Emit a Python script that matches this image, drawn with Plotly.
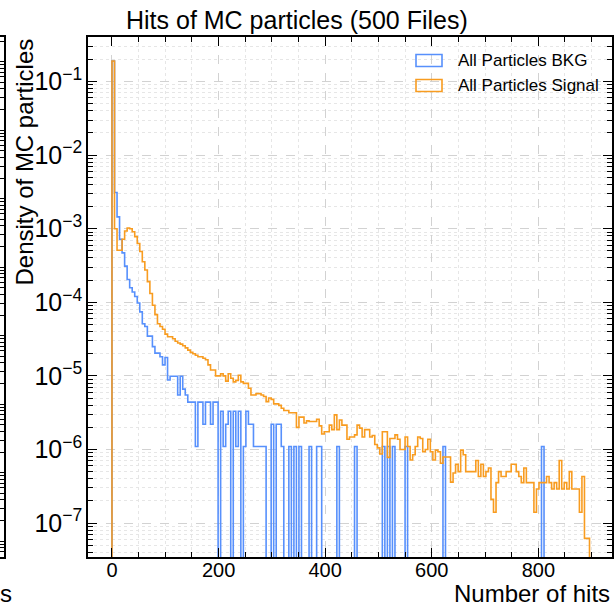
import numpy as np
import plotly.graph_objects as go

# ---------------- data ----------------
hit_min, hit_max, n_bins = 0.0, 896.0, 189

signal_density = [
    0.19, 1.0e-3, 5.1e-4, 5.1e-4, 7.2e-4, 9.3e-4, 1.02e-3, 1.0e-3, 9.1e-4, 7.8e-4,
    6.3e-4, 4.9e-4, 3.55e-4, 2.75e-4, 1.91e-4, 1.32e-4, 9.1e-5, 6.8e-5, 5.1e-5, 4.7e-5,
    4.3e-5, 3.7e-5, 3.4e-5, 3.4e-5, 3.2e-5, 2.95e-5, 2.8e-5, 2.7e-5, 2.57e-5, 2.4e-5,
    2.24e-5, 2.09e-5, 2.0e-5, 1.91e-5, 1.82e-5, 1.82e-5, 1.74e-5, 1.66e-5, 1.41e-5, 1.2e-5,
    1.2e-5, 1.0e-5, 1.0e-5, 1.07e-5, 1.0e-5, 8.5e-6, 1.07e-5, 9.3e-6, 8.3e-6, 8.7e-6,
    1.02e-5, 8.3e-6, 7.9e-6, 7.9e-6, 6.8e-6, 5.5e-6, 5.5e-6, 5.75e-6, 5.75e-6, 5.5e-6,
    5.25e-6, 4.47e-6, 5.0e-6, 4.8e-6, 4.17e-6, 4.17e-6, 3.98e-6, 3.63e-6, 3.39e-6, 3.39e-6,
    3.16e-6, 3.16e-6, 3.16e-6, 2.0e-6, 2.75e-6, 2.75e-6, 2.29e-6, 2.45e-6, 2.4e-6, 2.4e-6,
    2.4e-6, 2.57e-6, 2.09e-6, 1.62e-6, 1.74e-6, 1.74e-6, 2.14e-6, 1.86e-6, 2.95e-6, 1.86e-6,
    2.51e-6, 2.14e-6, 2.14e-6, 1.38e-6, 1.48e-6, 1.48e-6, 1.58e-6, 2.14e-6, 1.95e-6, 1.48e-6,
    1.86e-6, 1.86e-6, 1.48e-6, 1.55e-6, 1.17e-6, 1.05e-6, 8.7e-7, 1.74e-6, 1.74e-6, 7.8e-7,
    1.41e-6, 1.41e-6, 1.58e-6, 1.38e-6, 1.0e-6, 1.0e-6, 1.48e-6, 1.1e-6, 7.2e-7, 8.5e-7,
    1.1e-6, 1.48e-6, 1.41e-6, 9.3e-7, 1.0e-6, 1.38e-6, 9.3e-7, 7.2e-7, 9.8e-7, 9.3e-7,
    6.5e-7, 7.9e-7, 7.9e-7, 7.9e-7, 3.6e-7, 4.8e-7, 6.3e-7, 5.0e-7, 9.8e-7, 8.5e-7,
    5.0e-7, 5.0e-7, 5.0e-7, 5.0e-7, 7.1e-7, 4.3e-7, 6.3e-7, 4.3e-7, 5.0e-7, 5.6e-7,
    2.1e-7, 1.4e-7, 3.55e-7, 5.0e-7, 4.3e-7, 4.3e-7, 5.0e-7, 5.0e-7, 6.3e-7, 6.3e-7,
    5.0e-7, 4.3e-7, 3.55e-7, 5.6e-7, 3.55e-7, 3.55e-7, 3.55e-7, 1.4e-7, 2.9e-7, 3.55e-7,
    3.55e-7, 3.55e-7, 4.3e-7, 3.55e-7, 2.9e-7, 3.55e-7, 2.9e-7, 7.1e-7, 2.9e-7, 3.55e-7,
    2.9e-7, 5.0e-7, 2.9e-7, 2.9e-7, 2.9e-7, 1.4e-7, 4.3e-7, 6.2e-8, 6.2e-8,
]

bkg_density = [
    0.19, 3.1e-3, 1.45e-3, 7.2e-4, 4.7e-4, 3.1e-4, 2.04e-4, 1.58e-4, 1.38e-4, 1.2e-4,
    9.8e-5, 7.4e-5, 5.1e-5, 4.7e-5, 3.47e-5, 3.47e-5, 2.5e-5, 2.04e-5, 2.04e-5, 1.82e-5,
    1.41e-5, 1.78e-5, 8.8e-6, 9.9e-6, 9.9e-6, 9.9e-6, 5.5e-6, 9.9e-6, 6.6e-6, 5.5e-6,
    4.4e-6, 4.4e-6, 4.4e-6, 1.1e-6, 4.4e-6, 4.4e-6, 2.2e-6, 4.4e-6, 4.4e-6, 2.2e-6,
    4.4e-6, 4.4e-6, 0.0, 3.3e-6, 1.1e-6, 2.2e-6, 3.3e-6, 0.0, 3.3e-6, 1.1e-6,
    3.3e-6, 0.0, 1.1e-6, 3.3e-6, 2.2e-6, 2.2e-6, 1.1e-6, 1.1e-6, 1.1e-6, 1.1e-6,
    1.1e-6, 0.0, 0.0, 2.2e-6, 0.0, 2.2e-6, 2.2e-6, 1.1e-6, 0.0, 0.0,
    1.1e-6, 0.0, 1.1e-6, 0.0, 1.1e-6, 0.0, 0.0, 0.0, 1.1e-6, 0.0,
    0.0, 1.1e-6, 1.1e-6, 0.0, 0.0, 0.0, 0.0, 0.0, 0.0, 1.1e-6,
    0.0, 0.0, 0.0, 0.0, 0.0, 0.0, 1.1e-6, 0.0, 0.0, 0.0,
    0.0, 0.0, 0.0, 0.0, 0.0, 0.0, 0.0, 1.1e-6, 0.0, 1.1e-6,
    0.0, 1.1e-6, 0.0, 0.0, 0.0, 0.0, 1.1e-6, 0.0, 0.0, 0.0,
    0.0, 0.0, 0.0, 0.0, 0.0, 0.0, 0.0, 0.0, 0.0, 0.0,
    0.0, 1.1e-6, 0.0, 0.0, 0.0, 0.0, 0.0, 0.0, 0.0, 0.0,
    0.0, 0.0, 0.0, 0.0, 0.0, 0.0, 0.0, 0.0, 0.0, 0.0,
    0.0, 0.0, 0.0, 0.0, 0.0, 0.0, 0.0, 0.0, 0.0, 0.0,
    0.0, 0.0, 0.0, 0.0, 0.0, 0.0, 0.0, 0.0, 0.0, 0.0,
    1.1e-6, 0.0, 0.0, 0.0, 0.0, 0.0, 0.0, 0.0, 0.0, 0.0,
    0.0, 0.0, 0.0, 0.0, 0.0, 0.0, 0.0, 0.0, 0.0,
]

series_labels = ["All Particles BKG", "All Particles Signal"]
series_colors = ["#5790fc", "#f89c20"]
title_text = "Hits of MC particles (500 Files)"
x_title = "Number of hits"
y_title = "Density of MC particles"

# ---------------- figure ----------------
W, H = 614, 607
R, T, B = 2, 37, 50
PW, PH = W - R, H - T - B          # paper area spans x = 0 .. 612 px
MAIN_LEFT = 88                     # main panel starts here
FRAG_RIGHT = 3.5                   # right spine of neighbouring panel
FONT = "Liberation Sans, Arial, Helvetica, sans-serif"


def px(xp):
    return xp / PW


def py(yp):
    return (H - B - yp) / PH


edges = np.linspace(hit_min, hit_max, n_bins + 1)
FLOOR = 1e-12


def step_xy(vals):
    v = [val if val > 0 else FLOOR for val in vals]
    xs = [edges[0]] + list(edges[:-1]) + [edges[-1], edges[-1]]
    ys = [FLOOR] + v + [v[-1], FLOOR]
    return xs, ys


fig = go.Figure()
for vals, name, col in [(bkg_density, series_labels[0], series_colors[0]),
                        (signal_density, series_labels[1], series_colors[1])]:
    xs, ys = step_xy(vals)
    fig.add_trace(go.Scatter(x=xs, y=ys, mode="lines", name=name,
                             line=dict(color=col, width=1.6, shape="hv"),
                             showlegend=False, hoverinfo="skip"))

# invisible placeholder so the neighbouring panel's axes get drawn
fig.add_trace(go.Scatter(x=[0.5], y=[1e-3], xaxis="x2", yaxis="y2", mode="markers",
                         marker=dict(opacity=0), showlegend=False, hoverinfo="skip"))

axis_common = dict(
    showline=True, linecolor="black", linewidth=1.6, mirror="ticks",
    ticks="inside", ticklen=9, tickwidth=1.1, tickcolor="black",
    tickfont=dict(family=FONT, size=20, color="black"),
    showgrid=True, gridcolor="#d2d2d2", griddash="dash", gridwidth=0.8,
    zeroline=False,
)

fig.update_layout(
    xaxis=dict(
        domain=[px(MAIN_LEFT), 1.0], anchor="y",
        range=[-45.0, 938.2], tick0=0, dtick=200, ticklabelstandoff=-6,
        minor=dict(ticks="inside", ticklen=5, tickcolor="black", dtick=50,
                   showgrid=True, gridcolor="#e6e6e6", griddash="dot", gridwidth=0.8),
        **axis_common,
    ),
    yaxis=dict(
        domain=[0, 1], anchor="x",
        type="log", range=[-7.461, -0.395], dtick=1,
        exponentformat="power", showexponent="all",
        minor=dict(ticks="inside", ticklen=5, tickcolor="black",
                   showgrid=True, gridcolor="#e6e6e6", griddash="dot", gridwidth=0.8),
        **axis_common,
    ),
    # neighbouring panel (only its right edge is visible)
    xaxis2=dict(domain=[0, px(FRAG_RIGHT)], anchor="y2", range=[0, 1],
                showline=True, linecolor="black", linewidth=1.6, mirror=True,
                ticks="", showticklabels=False, showgrid=False, zeroline=False,
                fixedrange=True),
    yaxis2=dict(domain=[0, 1], anchor="x2", side="right", type="log",
                range=[-7.23, 0.36], dtick=1,
                showline=True, linecolor="black", linewidth=1.6, mirror=False,
                ticks="inside", ticklen=8, tickwidth=1.1, tickcolor="black",
                minor=dict(ticks="inside", ticklen=4, tickcolor="black", showgrid=False),
                showticklabels=False, showgrid=False, zeroline=False),
)

annotations = [
    dict(text=title_text, x=px(297), y=py(20), xref="paper", yref="paper",
         xanchor="center", yanchor="middle", showarrow=False,
         font=dict(family=FONT, size=25, color="black")),
    dict(text=x_title, x=px(611), y=py(607.5), xref="paper", yref="paper",
         xanchor="right", yanchor="bottom", showarrow=False, borderpad=0,
         font=dict(family=FONT, size=24, color="black")),
    dict(text=y_title, x=px(24), y=1.0, xref="paper", yref="paper",
         xanchor="center", yanchor="top", textangle=-90, showarrow=False,
         font=dict(family=FONT, size=24, color="black")),
    dict(text="s", x=px(-1), y=py(607.5), xref="paper", yref="paper",
         xanchor="left", yanchor="bottom", showarrow=False, borderpad=0,
         font=dict(family=FONT, size=24, color="black")),
]
# legend (outlined boxes like a step-histogram legend)
leg_rows = [(series_labels[0], series_colors[0], 60.5),
            (series_labels[1], series_colors[1], 85.5)]
shapes = []
for lab, col, yc in leg_rows:
    shapes.append(dict(type="rect", xref="paper", yref="paper",
                       x0=px(416), x1=px(442), y0=py(yc + 6), y1=py(yc - 6),
                       line=dict(color=col, width=1.6), fillcolor="rgba(0,0,0,0)"))
    annotations.append(dict(text=lab, x=px(456), y=py(yc), xref="paper", yref="paper",
                            xanchor="left", yanchor="middle", showarrow=False,
                            font=dict(family=FONT, size=17, color="black")))

fig.update_layout(
    width=W, height=H,
    margin=dict(l=0, r=R, t=T, b=B, pad=0),
    paper_bgcolor="white", plot_bgcolor="white",
    font=dict(family=FONT, color="black"),
    annotations=annotations, shapes=shapes,
    showlegend=False,
)

fig.write_html("out.html")
